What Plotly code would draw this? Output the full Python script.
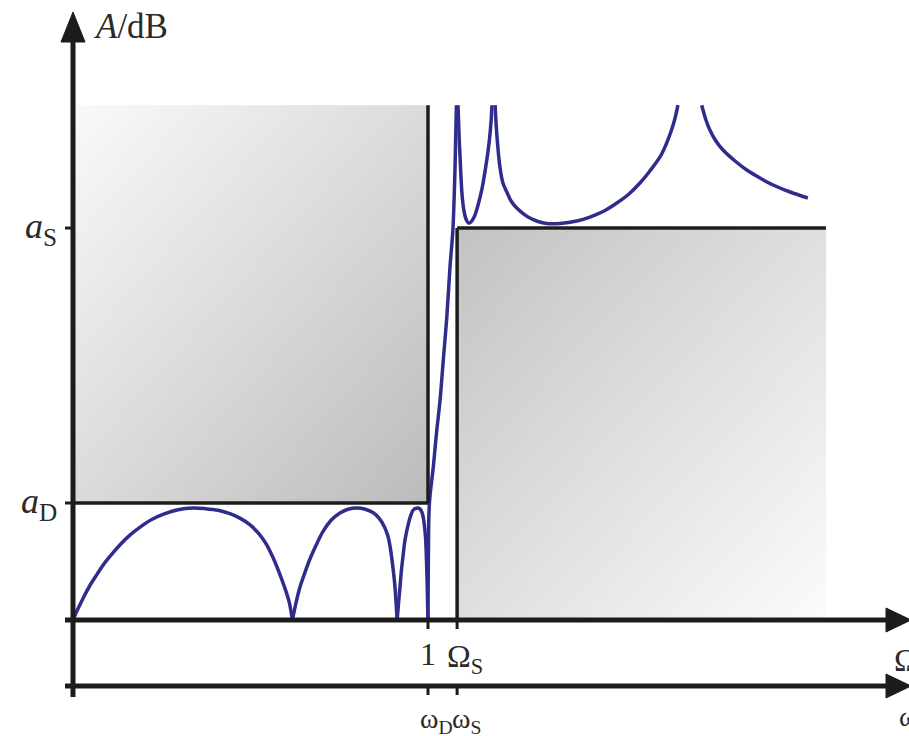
import plotly.graph_objects as go

# ---------------- data ----------------
# normalized frequency Omega and attenuation A (A in units of a_D)
OMEGA_D = 1.0      # passband edge  (tick "1")
OMEGA_S = 1.082    # stopband edge  (tick "Omega_S")
OMEGA_END = 2.121  # right end of stopband tolerance box
A_D = 1.0          # passband ripple limit
A_S = 3.35         # stopband minimum attenuation
A_TOP = 4.40       # top of the passband tolerance box (curve clipped there)

# passband ripple arches
arch1_w = [0.000, 0.014, 0.031, 0.048, 0.068, 0.087, 0.110, 0.132, 0.161, 0.189, 0.223, 0.259, 0.296, 0.338,
           0.372, 0.409, 0.442, 0.470, 0.499, 0.521, 0.544, 0.563, 0.580, 0.594, 0.609, 0.618]
arch1_a = [0.000, 0.096, 0.201, 0.297, 0.392, 0.479, 0.565, 0.641, 0.727, 0.794, 0.861, 0.909, 0.943, 0.957,
           0.952, 0.938, 0.909, 0.871, 0.813, 0.746, 0.651, 0.536, 0.412, 0.297, 0.153, 0.000]
arch2_w = [0.618, 0.628, 0.639, 0.654, 0.668, 0.685, 0.704, 0.727, 0.752, 0.775, 0.800,
           0.823, 0.845, 0.862, 0.876, 0.887, 0.894, 0.900, 0.906, 0.910, 0.913]
arch2_a = [0.000, 0.144, 0.278, 0.412, 0.526, 0.641, 0.756, 0.852, 0.914, 0.947, 0.957,
           0.947, 0.919, 0.871, 0.804, 0.718, 0.612, 0.479, 0.316, 0.153, 0.000]
arch3_w = [0.913, 0.917, 0.921, 0.925, 0.930, 0.935, 0.944, 0.951, 0.958, 0.965, 0.972,
           0.978, 0.983, 0.987, 0.990, 0.993, 0.995, 0.997, 0.9986, 0.9997]
arch3_a = [0.000, 0.144, 0.278, 0.421, 0.555, 0.679, 0.813, 0.890, 0.938, 0.954, 0.957,
           0.947, 0.919, 0.871, 0.804, 0.708, 0.574, 0.383, 0.191, 0.000]
# transition band up to the first pole
trans_w = [0.9997, 1.001, 1.004, 1.015, 1.024, 1.034, 1.043, 1.053, 1.062, 1.070, 1.076, 1.080]
trans_a = [0.00, 0.51, 1.00, 1.31, 1.60, 1.88, 2.22, 2.59, 3.02, 3.33, 3.85, 4.40]
# stopband lobes between poles (clipped at A_TOP)
lobe1_w = [1.0845, 1.088, 1.092, 1.096, 1.101, 1.107, 1.114, 1.121, 1.130, 1.141, 1.152, 1.163, 1.172, 1.178, 1.180]
lobe1_a = [4.400, 4.103, 3.846, 3.632, 3.504, 3.427, 3.393, 3.402, 3.444, 3.547, 3.684, 3.880, 4.077, 4.274, 4.400]
lobe2_w = [1.189, 1.194, 1.203, 1.211, 1.222, 1.234, 1.250, 1.268, 1.287, 1.310, 1.334, 1.372, 1.419,
           1.456, 1.496, 1.532, 1.566, 1.597, 1.625, 1.654, 1.670, 1.685, 1.696, 1.704]
lobe2_a = [4.400, 4.145, 3.863, 3.735, 3.658, 3.581, 3.521, 3.474, 3.436, 3.406, 3.389, 3.389, 3.410,
           3.444, 3.496, 3.564, 3.641, 3.735, 3.838, 3.960, 4.060, 4.179, 4.291, 4.400]
lobe3_w = [1.771, 1.783, 1.794, 1.811, 1.831, 1.865, 1.898, 1.935, 1.972, 2.020, 2.070]
lobe3_a = [4.400, 4.274, 4.188, 4.094, 4.017, 3.923, 3.846, 3.778, 3.718, 3.658, 3.607]

segments = [(arch1_w, arch1_a), (arch2_w, arch2_a), (arch3_w, arch3_a),
            (trans_w, trans_a), (lobe1_w, lobe1_a), (lobe2_w, lobe2_a), (lobe3_w, lobe3_a)]

# ---------------- geometry / style ----------------
W, H = 909, 736
X0_PX, X_SCALE = 73.0, 355.0   # pixel of Omega=0, pixels per Omega unit
Y0_PX, Y_SCALE = 620.0, 117.0  # pixel of A=0, pixels per A unit


def px_x(p):
    return (p - X0_PX) / X_SCALE


def px_y(p):
    return (Y0_PX - p) / Y_SCALE


CURVE_COLOR = "#302c8c"
INK = "#1c1c1c"
TEXT = "#2a2a2a"
FONT = "Liberation Serif, Times New Roman, serif"

fig = go.Figure()


def gradient_box(x_lo, x_hi, y_lo, y_hi, c_topleft, c_botright, n=40):
    dxs = (x_hi - x_lo) / n
    dys = (y_hi - y_lo) / n
    z = [[(i / (n - 1) + (n - 1 - j) / (n - 1)) / 2 for i in range(n)] for j in range(n)]
    fig.add_trace(go.Heatmap(
        z=z, x0=x_lo + dxs / 2, dx=dxs, y0=y_lo + dys / 2, dy=dys,
        colorscale=[[0, c_topleft], [1, c_botright]], showscale=False,
        zsmooth="best", hoverinfo="skip"))


gradient_box(0.0, OMEGA_D, A_D, A_TOP, "#f9f9f9", "#bcbcbc")
gradient_box(OMEGA_S, OMEGA_END, 0.0, A_S, "#c3c3c3", "#fbfbfb")

xs, ys = [], []
for w, a in segments:
    xs += list(w) + [None]
    ys += list(a) + [None]
fig.add_trace(go.Scatter(x=xs, y=ys, mode="lines",
                         line=dict(color=CURVE_COLOR, width=3.5, shape="spline", smoothing=1.0),
                         connectgaps=False, hoverinfo="skip"))

shapes = []


def line(x0, y0, x1, y1, width):
    shapes.append(dict(type="line", xref="x", yref="y", x0=x0, y0=y0, x1=x1, y1=y1,
                       line=dict(color=INK, width=width)))


def tri(points):
    path = "M " + " L ".join(f"{x},{y}" for x, y in points) + " Z"
    shapes.append(dict(type="path", xref="x", yref="y", path=path, fillcolor=INK,
                       line=dict(color=INK, width=1)))


# tolerance box borders
line(OMEGA_D, A_TOP, OMEGA_D, A_D, 3.5)
line(0.0, A_D, OMEGA_D, A_D, 3.5)
line(OMEGA_S, A_S, OMEGA_S, 0.0, 3.5)
line(OMEGA_S, A_S, OMEGA_END, A_S, 3.5)

# axes
line(0.0, px_y(697), 0.0, px_y(38), 5)                 # A axis
tri([(px_x(61), px_y(42)), (0.0, px_y(12)), (px_x(85), px_y(42))])
line(px_x(65), 0.0, px_x(890), 0.0, 5)                # Omega axis
tri([(px_x(886), px_y(608)), (px_x(911), px_y(620)), (px_x(886), px_y(632))])
y_w = px_y(686)
line(px_x(65), y_w, px_x(890), y_w, 5)                # omega axis
tri([(px_x(886), px_y(674)), (px_x(911), px_y(686)), (px_x(886), px_y(698))])

# ticks
for xv in (OMEGA_D, OMEGA_S):
    line(xv, 0.0, xv, px_y(629), 3)
    line(xv, y_w, xv, px_y(695), 3)
for yv in (A_D, A_S):
    line(px_x(65), yv, 0.0, yv, 3)

annos = []


def label(text, x, y, xanchor="center", yanchor="middle", size=32):
    annos.append(dict(text=text, x=x, y=y, xref="x", yref="y", xanchor=xanchor, yanchor=yanchor,
                      showarrow=False, font=dict(family=FONT, size=size, color=TEXT)))


label("<i>A</i>/dB", px_x(92), px_y(26), xanchor="left", size=35)
label("<i>a</i><sub>S</sub>", px_x(59), A_S, xanchor="right", size=36)
label("<i>a</i><sub>D</sub>", px_x(59), A_D, xanchor="right", size=36)
label("1", OMEGA_D, px_y(654))
label("Ω<sub>S</sub>", px_x(445), px_y(658), xanchor="left")
label("ω<sub>D</sub>", px_x(418), px_y(720), xanchor="left", size=28)
label("ω<sub>S</sub>", px_x(450), px_y(720), xanchor="left", size=28)
label("Ω", px_x(892), px_y(660), xanchor="left")
label("ω", px_x(897), px_y(716), xanchor="left", size=28)

fig.update_layout(
    width=W, height=H, margin=dict(l=0, r=0, t=0, b=0, pad=0),
    paper_bgcolor="white", plot_bgcolor="white", showlegend=False, hovermode=False,
    xaxis=dict(visible=False, range=[px_x(0), px_x(W)], fixedrange=True),
    yaxis=dict(visible=False, range=[px_y(H), px_y(0)], fixedrange=True),
    shapes=shapes, annotations=annos,
)

fig.write_html("out.html", config={"displayModeBar": False},
               post_script="document.body.style.margin='0';")
